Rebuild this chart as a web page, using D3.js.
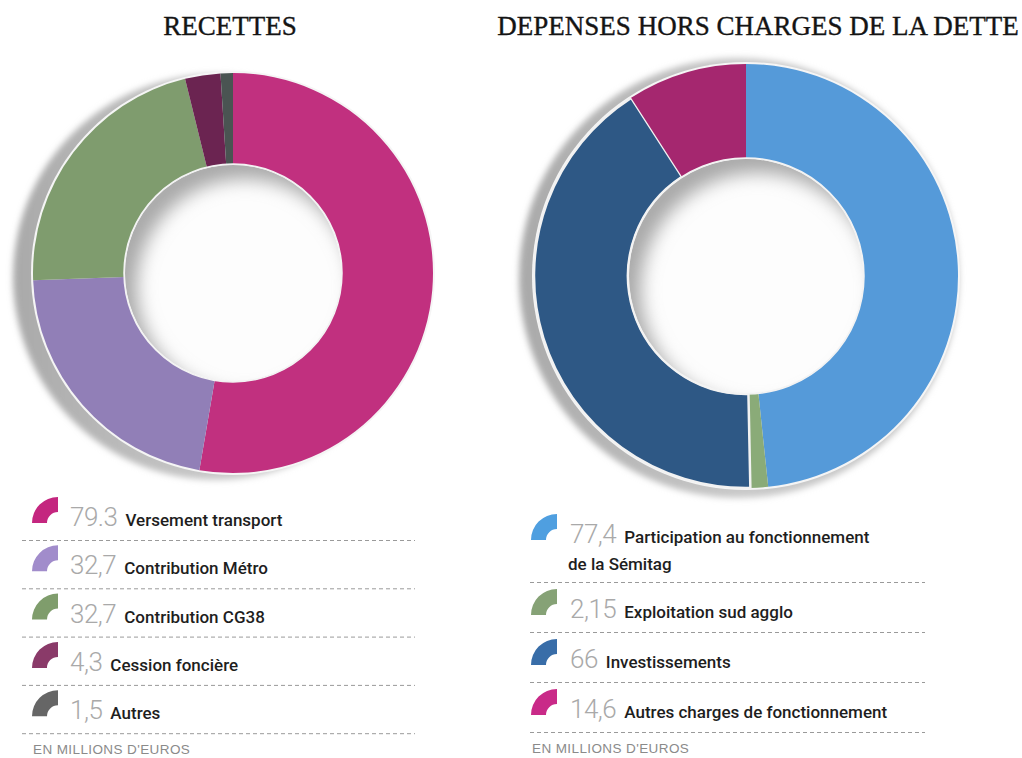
<!DOCTYPE html>
<html>
<head>
<meta charset="utf-8">
<script src="https://cdn.jsdelivr.net/npm/d3@7"></script>
<style>
  body { margin: 0; background: #fff; }
  svg { display: block; }
</style>
</head>
<body>
<svg id="chart" width="1022" height="758"></svg>
<script>
// =======================
//  Data
// =======================

var recettesLabels = ["Versement transport", "Contribution Métro", "Contribution CG38", "Cession foncière", "Autres"];
var recettesValues = [79.3, 32.7, 32.7, 4.3, 1.5];
var recettesText = ["79.3", "32,7", "32,7", "4,3", "1,5"];

var depensesLabels = [["Participation au fonctionnement", "de la Sémitag"], ["Exploitation sud agglo"], ["Investissements"], ["Autres charges de fonctionnement"]];
var depensesValues = [77.4, 2.15, 66, 14.6];
var depensesText = ["77,4", "2,15", "66", "14,6"];

var unitText = "EN MILLIONS D'EUROS";

// =======================
//  Styles
// =======================

var recettesColors = ["#c1307f", "#917fb7", "#7f9c6e", "#6b2451", "#4a5452"];
var recettesKeyColors = ["#c4267f", "#a18ccb", "#7f9d6c", "#8a3a69", "#666666"];
var depensesColors = ["#559ad9", "#8aab78", "#2e5885", "#a5276f"];
var depensesKeyColors = ["#4f9fe0", "#86a276", "#386da8", "#c92a88"];

var numFont = "Roboto, 'Liberation Sans', sans-serif";
var labelFont = "Roboto, 'Liberation Sans', sans-serif";

var svg = d3.select("#chart");
var defs = svg.append("defs");

defs.append("filter").attr("id", "blur3").attr("x", "-20%").attr("y", "-20%").attr("width", "140%").attr("height", "140%")
    .append("feGaussianBlur").attr("stdDeviation", 3);
defs.append("filter").attr("id", "blur8").attr("x", "-30%").attr("y", "-30%").attr("width", "160%").attr("height", "160%")
    .append("feGaussianBlur").attr("stdDeviation", 9);

var shadowGrad = defs.append("linearGradient").attr("id", "shadowGrad")
    .attr("x1", "0%").attr("y1", "0%").attr("x2", "100%").attr("y2", "0%");
shadowGrad.append("stop").attr("offset", "0%").attr("stop-color", "#a9a9a9");
shadowGrad.append("stop").attr("offset", "50%").attr("stop-color", "#c9c9c9");
shadowGrad.append("stop").attr("offset", "100%").attr("stop-color", "#c4c4c4");

// =======================
//  Donut
// =======================

function drawDonut(id, cx, cy, R, r, values, colors, shadowDx, shadowDy, shadowR, sepIndex) {
    var g = svg.append("g").attr("transform", "translate(" + cx + "," + cy + ")");

    // outer soft shadow
    g.append("circle")
        .attr("cx", shadowDx).attr("cy", shadowDy)
        .attr("r", R + shadowR)
        .attr("fill", "url(#shadowGrad)")
        .attr("filter", "url(#blur3)");
    g.append("circle").attr("r", R + 2).attr("fill", "#f5f5f5");

    var pie = d3.pie().sort(null).value(d => d);
    var arc = d3.arc().innerRadius(r).outerRadius(R);

    g.selectAll("path.slice")
        .data(pie(values))
        .join("path")
        .attr("class", "slice")
        .attr("d", arc)
        .attr("fill", (d, i) => colors[i])
        .attr("stroke", (d, i) => i === sepIndex ? "#f2f2f2" : "none")
        .attr("stroke-width", 2.5)
        .attr("stroke-linejoin", "round");

    // hole with inset shadow
    defs.append("clipPath").attr("id", "hole-" + id)
        .append("circle").attr("cx", cx).attr("cy", cy).attr("r", r - 1);
    var hole = svg.append("g").attr("clip-path", "url(#hole-" + id + ")");
    hole.append("circle").attr("cx", cx).attr("cy", cy).attr("r", r).attr("fill", "#fdfdfd");
    hole.append("circle")
        .attr("cx", cx + 12).attr("cy", cy + 14)
        .attr("r", r + 16)
        .attr("fill", "none")
        .attr("stroke", "#a9a9a9")
        .attr("stroke-width", 34)
        .attr("filter", "url(#blur8)");
    svg.append("circle").attr("cx", cx).attr("cy", cy).attr("r", r)
        .attr("fill", "none").attr("stroke", "#f3f3f3").attr("stroke-width", 1.5);
}

drawDonut("rec", 233, 273, 200, 109, recettesValues, recettesColors, -17, 4, 3, -1);
drawDonut("dep", 746, 276, 212, 118, depensesValues, depensesColors, -7, 2, 8, 2);

// =======================
//  Titles
// =======================

function title(x, txt) {
    svg.append("text").attr("x", x).attr("y", 35)
        .attr("text-anchor", "middle")
        .style("font-family", "'Liberation Serif', 'Times New Roman', serif")
        .style("font-size", "27px")
        .attr("fill", "#141414")
        .attr("stroke", "#141414")
        .attr("stroke-width", 0.35)
        .text(txt);
}
title(230, "RECETTES");
title(758, "DEPENSES HORS CHARGES DE LA DETTE");

// =======================
//  Legends
// =======================

var keyArc = d3.arc().innerRadius(11).outerRadius(26).startAngle(-Math.PI / 2).endAngle(0);

function drawLegend(opts) {
    var g = svg.append("g");
    opts.numbers.forEach(function(num, i) {
        var base = opts.baselines[i];
        g.append("path")
            .attr("d", keyArc())
            .attr("transform", "translate(" + (opts.iconX + 26) + "," + (base - 3) + ")")
            .attr("fill", opts.keyColors[i]);
        var t = g.append("text")
            .attr("x", opts.numX).attr("y", base)
            .style("font-family", numFont)
            .style("font-size", "26px")
            .style("font-weight", 300)
            .style("letter-spacing", "-0.5px")
            .attr("fill", "#a9a9a9")
            .text(num);
        var w = t.node().getComputedTextLength();
        var lines = opts.labels[i];
        g.append("text")
            .attr("x", opts.numX + w + 8).attr("y", base)
            .style("font-family", labelFont)
            .style("font-size", "17px")
            .style("font-weight", 500)
            .attr("fill", "#1e1e1e")
            .text(lines[0]);
        if (lines.length > 1) {
            g.append("text")
                .attr("x", opts.numX - 2).attr("y", base + 27)
                .style("font-family", labelFont)
                .style("font-size", "17px")
                .style("font-weight", 500)
                .attr("fill", "#1e1e1e")
                .text(lines[1]);
        }
        g.append("line")
            .attr("x1", opts.lineX1).attr("x2", opts.lineX2)
            .attr("y1", opts.dashes[i] + 0.5).attr("y2", opts.dashes[i] + 0.5)
            .attr("stroke", "#9a9a9a")
            .attr("stroke-width", 1)
            .attr("stroke-dasharray", "4,3");
    });
    g.append("text")
        .attr("x", opts.iconX + 1).attr("y", opts.unitY)
        .style("font-family", "'Liberation Sans', Arial, sans-serif")
        .style("font-size", "13.5px")
        .style("letter-spacing", "0.4px")
        .attr("fill", "#8a8a8a")
        .text(unitText);
}

var leftBase = d3.range(recettesText.length).map(i => 526 + i * 48.3);
drawLegend({
    numbers: recettesText,
    labels: recettesLabels.map(d => [d]),
    keyColors: recettesKeyColors,
    iconX: 32, numX: 70,
    baselines: leftBase,
    dashes: leftBase.map(b => b + 14),
    lineX1: 22, lineX2: 415,
    unitY: 754
});

var rightBase = [543, 618, 668, 718];
drawLegend({
    numbers: depensesText,
    labels: depensesLabels,
    keyColors: depensesKeyColors,
    iconX: 531, numX: 570,
    baselines: rightBase,
    dashes: [582, 632, 682, 732],
    lineX1: 530, lineX2: 925,
    unitY: 753
});
</script>
</body>
</html>
